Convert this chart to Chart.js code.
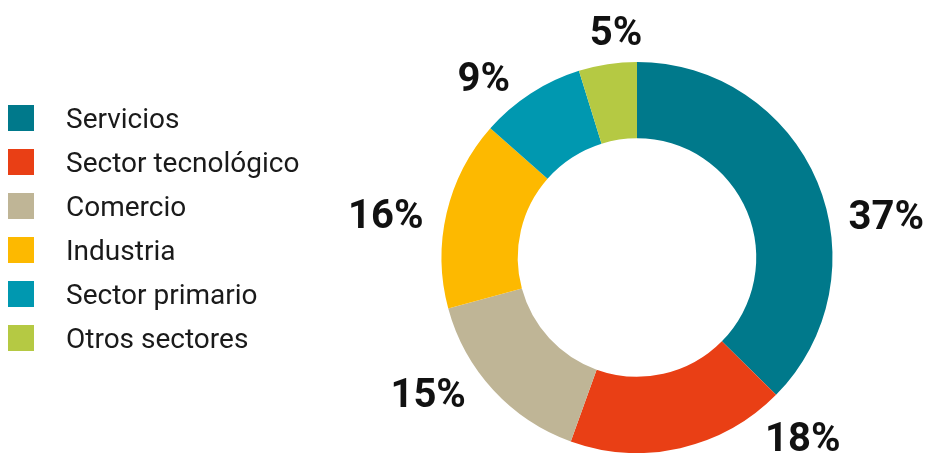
<!DOCTYPE html>
<html>
<head>
<meta charset="utf-8">
<script src="https://cdn.jsdelivr.net/npm/chart.js@4/dist/chart.umd.min.js"></script>
<style>
  html, body { margin: 0; padding: 0; background: #ffffff; }
  #wrap { position: relative; width: 926px; height: 453px; overflow: hidden; }
  #legend { position: absolute; left: 8px; top: 96px; font-family: Roboto, sans-serif; font-size: 28px; color: #1a1a1a; }
  .item { display: flex; align-items: center; height: 44px; }
  .box { width: 26px; height: 26px; margin-right: 32px; flex: none; }
  canvas { position: absolute; left: 0; top: 0; }
</style>
</head>
<body>
<div id="wrap">
  <canvas id="c" width="926" height="453"></canvas>
  <div id="legend"></div>
</div>
<script>
const categories = ["Servicios", "Sector tecnológico", "Comercio", "Industria", "Sector primario", "Otros sectores"];
const shares = [37.4, 18.1, 15.3, 15.7, 8.7, 4.8];
const colors = ["#00798B", "#E93F15", "#BFB596", "#FDB900", "#0098B0", "#B5C943"];
const valueLabels = ["37%", "18%", "15%", "16%", "9%", "5%"];
// label placement: angle (deg, clockwise from top) and distance from centre
const labelAngle = [80.2, 137.2, 237, 279.8, 319.7, 354.7];
const labelDist = [253, 244, 249, 255, 237, 228];

const legendEl = document.getElementById('legend');
categories.forEach((name, i) => {
  const it = document.createElement('div');
  it.className = 'item';
  const b = document.createElement('span');
  b.className = 'box';
  b.style.background = colors[i];
  const t = document.createElement('span');
  t.textContent = name;
  it.appendChild(b); it.appendChild(t);
  legendEl.appendChild(it);
});

const labelPlugin = {
  id: 'outerLabels',
  afterDatasetsDraw(chart) {
    const ctx = chart.ctx;
    const meta = chart.getDatasetMeta(0);
    const size = 40;
    ctx.save();
    ctx.font = 'bold ' + size + 'px Roboto, sans-serif';
    ctx.fillStyle = '#111111';
    ctx.textAlign = 'center';
    ctx.textBaseline = 'alphabetic';
    meta.data.forEach((arc, i) => {
      const a = labelAngle[i] * Math.PI / 180;
      const x = arc.x + Math.sin(a) * labelDist[i];
      const y = arc.y - Math.cos(a) * labelDist[i];
      ctx.fillText(valueLabels[i], x, y + size * 0.711 / 2);
    });
    ctx.restore();
  }
};

new Chart(document.getElementById('c'), {
  type: 'doughnut',
  data: {
    labels: categories,
    datasets: [{
      data: shares,
      backgroundColor: colors,
      borderWidth: 0
    }]
  },
  options: {
    responsive: false,
    animation: false,
    cutout: '61%',
    layout: { padding: { left: 348, top: 62, right: 0, bottom: 0 } },
    plugins: { legend: { display: false }, tooltip: { enabled: false } }
  },
  plugins: [labelPlugin]
});
</script>
</body>
</html>
